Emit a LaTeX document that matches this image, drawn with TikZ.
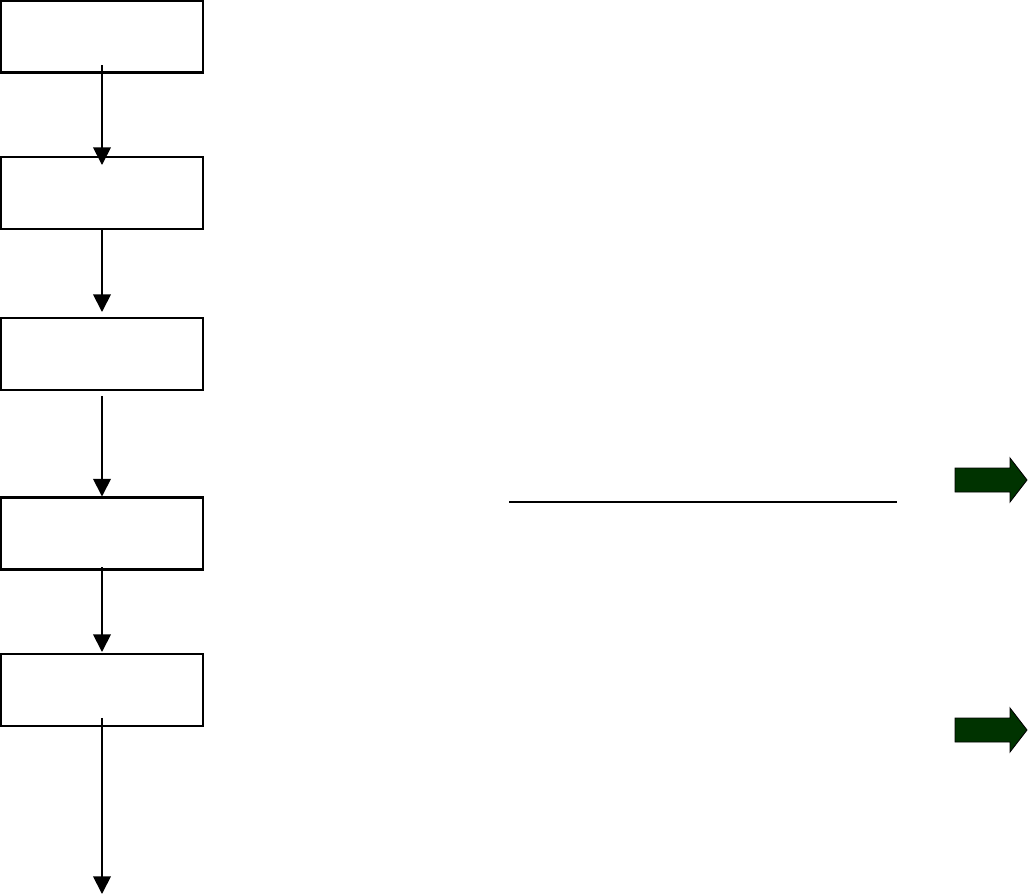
\documentclass[tikz,border=0pt]{standalone}
\usepackage{xcolor}
\usepackage{tikz}
\usetikzlibrary{arrows.meta, positioning, calc}
\definecolor{arrowgreen}{RGB}{0,51,0}

\begin{document}
\begin{tikzpicture}[x=0.02cm, y=-0.02cm,
    stagebox/.style={draw=black, line width=1.25pt, fill=white, minimum width=4.04cm,
                     minimum height=1.44cm, inner sep=0pt, outer sep=0pt},
    flow/.style={line width=1pt, -{Triangle[length=10pt, width=10pt]}}]
  % Canvas (pixel units, y downwards)
  \useasboundingbox (0,0) rectangle (1029,896);
  \def\cx{102}

  % Stage boxes
  \node[stagebox] (b1) at (\cx,36.5) {};
  \node[stagebox] (b2) at (\cx,193) {};
  \node[stagebox] (b3) at (\cx,354) {};
  \node[stagebox] (b4) at (\cx,533.5) {};
  \node[stagebox] (b5) at (\cx,690) {};
  \coordinate (out) at (\cx,894);

  % Flow arrows
  \draw[flow] ($(b1.south)+(0,-7)$) -- ($(b2.north)+(0,8)$);
  \draw[flow] ($(b2.south)+(0,1)$) -- ($(b3.north)+(0,-6)$);
  \draw[flow] ($(b3.south)+(0,6)$) -- ($(b4.north)+(0,-1)$);
  \draw[flow] ($(b4.south)+(0,-2)$) -- ($(b5.north)+(0,-2)$);
  \draw[flow] ($(b5.south)+(0,-8)$) -- (out);

  % Rule
  \draw[line width=1.1pt] (509,502) -- (897,502);

  % Block arrows
  \foreach \c in {480,730}{
    \draw[fill=arrowgreen, line width=0.5pt]
      (955,\c-12) -- (1010,\c-12) -- (1010,\c-22) -- (1027,\c) --
      (1010,\c+22) -- (1010,\c+12) -- (955,\c+12) -- cycle;
  }
\end{tikzpicture}
\end{document}
